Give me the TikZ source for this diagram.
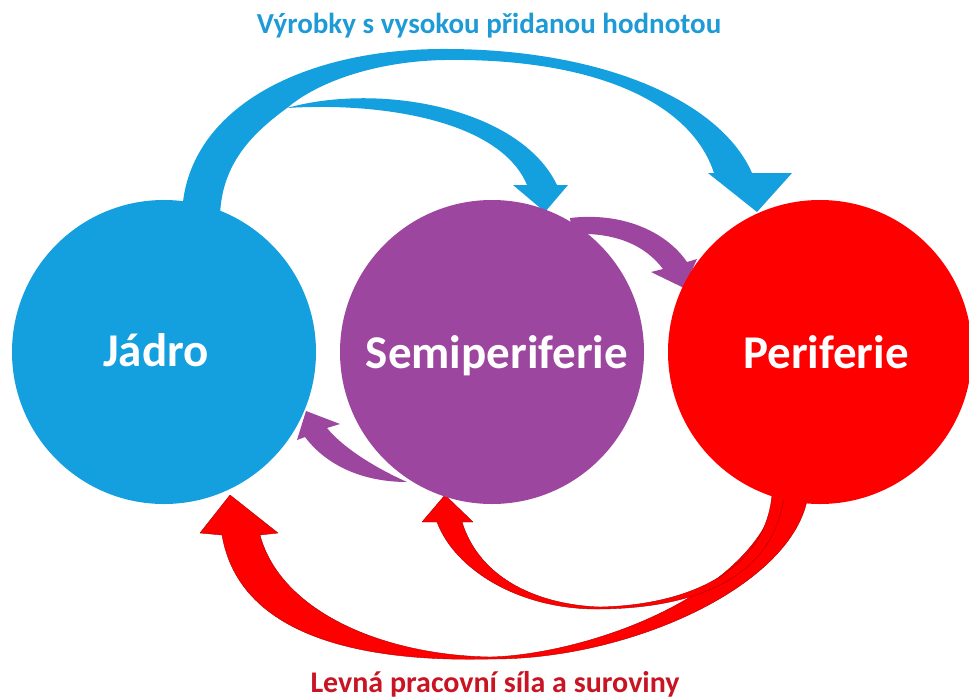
\documentclass[tikz,border=0pt]{standalone}
\usepackage{fontspec}
\setmainfont{Carlito}
\definecolor{jblue}{RGB}{20,160,222}
\definecolor{spurple}{RGB}{156,70,160}
\definecolor{pred}{RGB}{255,0,0}
\definecolor{tblue}{RGB}{30,155,215}
\definecolor{bred}{RGB}{200,20,35}
\begin{document}
\begin{tikzpicture}[x=1pt,y=-1pt,
  orb/.style={circle,inner sep=0pt,minimum size=304pt},
  lbl/.style={text=white,font=\fontsize{47}{50}\selectfont\bfseries,anchor=base,inner sep=0pt},
  ttl/.style={font=\fontsize{29}{32}\selectfont\bfseries,anchor=base,inner sep=0pt},
  bluearrow/.style={fill=jblue},
  purplearrow/.style={fill=spurple},
  redarrow/.style={fill=pred,draw=red!65!black,line width=0.4pt,line join=round}]
\fill[white] (0,0) rectangle (969,699);
\useasboundingbox (0,0) rectangle (969,699);

% blue arrows: Jadro -> Periferie, Jadro -> Semiperiferie
\fill[bluearrow] (182,215) .. controls (185,110) and (300,50) .. (440,49)
  .. controls (600,48) and (720,100) .. (752,173)
  -- (792,173) -- (757,212) -- (708,173) -- (714,173)
  .. controls (690,100) and (590,58) .. (445,60)
  .. controls (380,61) and (320,80) .. (287,108)
  .. controls (250,135) and (222,165) .. (220,215) -- cycle;
\fill[bluearrow] (287,108) .. controls (380,82) and (520,108) .. (557,185)
  -- (568,185) -- (545,212) -- (513,185) -- (527,185)
  .. controls (500,120) and (380,102) .. (287,108) -- cycle;

% purple arrows
\fill[purplearrow] (570,218) .. controls (620,212) and (665,230) .. (687,262)
  -- (697,259) -- (684,288) -- (651,272) -- (663,269)
  .. controls (645,245) and (615,232) .. (572,234) -- cycle;
\fill[purplearrow] (407,482) .. controls (370,482) and (330,470) .. (305,437)
  -- (297,440) -- (306,411) -- (340,424) -- (327,428)
  .. controls (345,450) and (380,470) .. (407,482) -- cycle;

% red arrows
\filldraw[redarrow] (808,495) .. controls (795,585) and (630,660) .. (490,659)
  .. controls (370,662) and (240,640) .. (222,535)
  -- (200,533) -- (230,495) -- (278,533) -- (260,535)
  .. controls (280,610) and (380,655) .. (490,657)
  .. controls (580,655) and (750,600) .. (778,495) -- cycle;
\filldraw[redarrow] (784,495) .. controls (775,575) and (700,608) .. (600,609)
  .. controls (520,610) and (455,570) .. (437,522)
  -- (422,522) -- (445,495) -- (473,522) -- (462,522)
  .. controls (480,580) and (540,605) .. (600,607)
  .. controls (690,605) and (765,570) .. (772,495) -- cycle;

% circles
\node[orb,fill=jblue] (jadro) at (164,352) {};
\node[orb,fill=spurple] (semi) at (492,352) {};
\node[orb,fill=pred] (peri) at (820,352) {};

\node[lbl] (jadrot) at (156,366) {Jádro};
\node[lbl] (semit) at (497,368) {Semiperiferie};
\node[lbl] (perit) at (826,368) {Periferie};

\node[ttl,text=tblue] (toptext) at (489,33) {Výrobky s vysokou přidanou hodnotou};
\node[ttl,text=bred] (bottext) at (495,692) {\fontsize{30}{32}\selectfont Levná pracovní síla a suroviny};
\end{tikzpicture}
\end{document}
